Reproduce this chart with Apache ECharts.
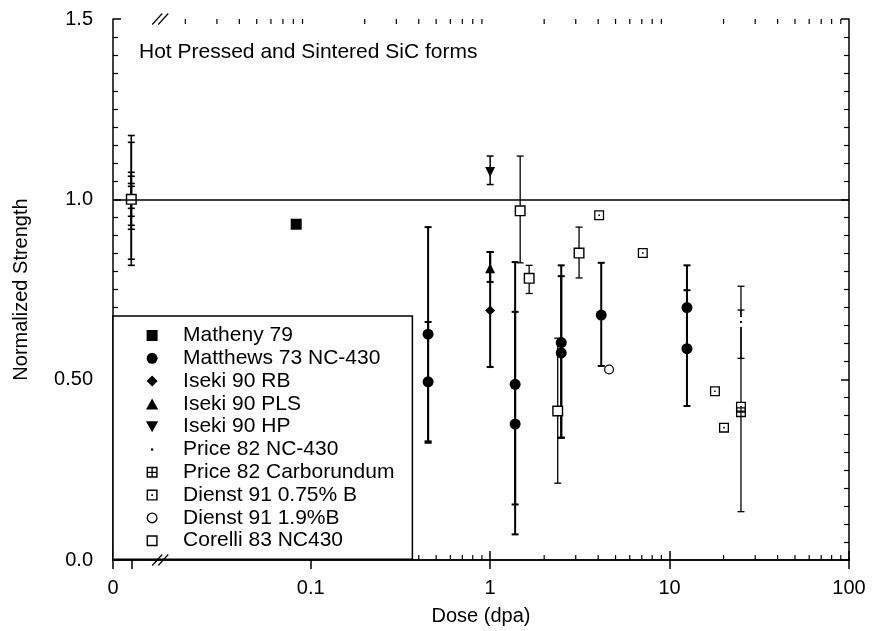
<!DOCTYPE html>
<html><head><meta charset="utf-8">
<script src="https://cdn.jsdelivr.net/npm/echarts@6/dist/echarts.min.js"></script>
<style>html,body{margin:0;padding:0;background:#fff}#c{width:875px;height:631px}</style>
</head><body><div id="c"></div>
<script>
const FONT = 'Liberation Sans, Arial, Helvetica, sans-serif';

// rows: [dose (dpa), normalized strength, error low, error high]
const unirradiated = [[0.01,1,0.817,1.177],[0.01,1,0.834,1.158],[0.01,1,0.928,1.075],[0.01,1,0.917,1.064],[0.01,1,0.953,1.044],[0.01,1,0.975,1.036]];
const matheny79 = [[0.083,0.931]];
const matthews73 = [[0.451,0.626,0.329,0.923],[0.451,0.494,0.325,0.66],[1.378,0.487,0.154,0.826],[1.378,0.377,0.071,0.688],[2.49,0.603,0.339,0.817],[2.49,0.574,0.339,0.787],[4.16,0.679,0.538,0.824],[12.5,0.700,0.583,0.817],[12.5,0.586,0.427,0.748]];
const iseki90RB = [[1.0,0.692,0.535,0.854]];
const iseki90PLS = [[1.0,0.809,0.771,0.854]];
const iseki90HP = [[1.0,1.076,1.041,1.12]];
const price82NC = [[25.0,0.66,0.559,0.759]];
const price82Carb = [[25.0,0.41,0.134,0.693]];
const dienst91B075 = [[4.05,0.956],[7.09,0.851],[17.9,0.468],[20.1,0.367],[25.0,0.425]];
const dienst91B19 = [[4.6,0.528]];
const corelli83 = [[0.01,1.0],[1.47,0.968,0.824,1.12],[1.65,0.781,0.739,0.817],[2.38,0.413,0.213,0.615],[3.13,0.851,0.782,0.923]];

const seriesNames = ['Matheny 79','Matthews 73 NC-430','Iseki 90 RB','Iseki 90 PLS','Iseki 90 HP','Price 82 NC-430','Price 82 Carborundum','Dienst 91 0.75% B','Dienst 91 1.9%B','Corelli 83 NC430'];
const xTickLabels = [[0.01,''],[0.1,'0.1'],[1,'1'],[10,'10'],[100,'100']];
const xZeroLabel = '0';
const xMinorTicks = [0.02,0.03,0.04,0.05,0.06,0.07,0.08,0.09,0.2,0.3,0.4,0.5,0.6,0.7,0.8,0.9,2,3,4,5,6,7,8,9,20,30,40,50,60,70,80,90];
const yTickLabels = [[0,'0.0'],[0.5,'0.50'],[1,'1.0'],[1.5,'1.5']];
const titleText = 'Hot Pressed and Sintered SiC forms';
const xName = 'Dose (dpa)';
const yName = 'Normalized Strength';
const referenceLevel = 1.0;
const breakDose = 0.0145;

const X_MIN = Math.pow(10, -2.102), X_MAX = 100, Y_MIN = 0, Y_MAX = 1.5;

const SQ_FILL = 'path://M0,0H10V10H0Z';
const DIAMOND = 'path://M5,0L10,5L5,10L0,5Z';
const UP_TRI = 'path://M5,0L10,9H0Z';
const DOWN_TRI = 'path://M0,0H10L5,9Z';
const SQ_RING = 'path://M0,0H10V10H0Z M1.3,1.3V8.7H8.7V1.3Z';
const SQ_DOT = SQ_RING + ' M4.2,4.2H5.8V5.8H4.2Z';
const SQ_PLUS = SQ_RING + ' M4.4,1.3H5.6V8.7H4.4Z M1.3,4.4H4.4V5.6H1.3Z M5.6,4.4H8.7V5.6H5.6Z';
const CIRC_RING = 'path://M5,0A5,5,0,1,1,5,10A5,5,0,1,1,5,0Z M5,1.2A3.8,3.8,0,1,0,5,8.8A3.8,3.8,0,1,0,5,1.2Z';
const TINY_DOT = 'path://M0,0M10,10M4,4H6V6H4Z';

function errRows(rows){ return rows.filter(r => r.length >= 4); }
function errSeries(name, rows, lw){
  return {
    type:'custom', name:name, z:1, silent:true,
    data: errRows(rows),
    encode:{x:0, y:1},
    renderItem: function(params, api){
      const x = api.value(0), lo = api.value(2), hi = api.value(3);
      const p1 = api.coord([x, hi]), p2 = api.coord([x, lo]);
      const hw = 3.5;
      const st = {stroke:'#000', lineWidth:lw};
      return {type:'group', children:[
        {type:'line', shape:{x1:p1[0],y1:p1[1],x2:p2[0],y2:p2[1]}, style:st},
        {type:'line', shape:{x1:p1[0]-hw,y1:p1[1],x2:p1[0]+hw,y2:p1[1]}, style:st},
        {type:'line', shape:{x1:p2[0]-hw,y1:p2[1],x2:p2[0]+hw,y2:p2[1]}, style:st}
      ]};
    }
  };
}
function pts(rows){ return rows.map(r => [r[0], r[1]]); }
function scat(name, rows, symbol, size){
  return {type:'scatter', name:name, z:3, data:pts(rows), symbol:symbol, symbolSize:size,
    itemStyle:{color:'#000', opacity:1}, emphasis:{disabled:true}, silent:true};
}
function mask(name, rows, symbol, size){
  return {type:'scatter', name:name, z:2, data:pts(rows), symbol:symbol, symbolSize:size,
    itemStyle:{color:'#fff', opacity:1}, emphasis:{disabled:true}, silent:true};
}

const chart = echarts.init(document.getElementById('c'), null, {renderer:'canvas'});

const series = [
  errSeries('err-base', unirradiated, 1.6),
  errSeries('err-matthews', matthews73, 2),
  errSeries('err-rb', iseki90RB, 2),
  errSeries('err-pls', iseki90PLS, 2),
  errSeries('err-hp', iseki90HP, 1.5),
  errSeries('err-pnc', price82NC, 1.3),
  errSeries('err-pcb', price82Carb, 1.3),
  errSeries('err-cor', corelli83, 1.3),
  {
    type:'custom', name:'minor-x', z:1, silent:true,
    data: xMinorTicks.map(v => [v, Y_MIN]),
    encode:{x:0, y:1},
    renderItem: function(params, api){
      const v = api.value(0);
      const b = api.coord([v, Y_MIN]), t = api.coord([v, Y_MAX]);
      const st = {stroke:'#000', lineWidth:1.2};
      return {type:'group', children:[
        {type:'line', shape:{x1:b[0],y1:b[1],x2:b[0],y2:b[1]-5}, style:st},
        {type:'line', shape:{x1:t[0],y1:t[1],x2:t[0],y2:t[1]+5}, style:st}
      ]};
    }
  },
  mask('m-pnc', price82NC, 'circle', 10),
  mask('m-pcb', price82Carb, 'rect', 9),
  mask('m-d075', dienst91B075, 'rect', 9),
  mask('m-d19', dienst91B19, 'circle', 9),
  mask('m-cor', corelli83, 'rect', 10),
  Object.assign(scat(seriesNames[0], matheny79, SQ_FILL, 11), {
    markLine:{silent:true, symbol:'none', label:{show:false}, animation:false,
      lineStyle:{color:'#000', width:1.5, type:'solid'}, data:[{yAxis:referenceLevel}]}
  }),
  scat(seriesNames[1], matthews73, 'circle', 11),
  scat(seriesNames[2], iseki90RB, DIAMOND, 10),
  scat(seriesNames[3], iseki90PLS, UP_TRI, 10),
  scat(seriesNames[4], iseki90HP, DOWN_TRI, 10),
  scat(seriesNames[5], price82NC, TINY_DOT, 10),
  scat(seriesNames[6], price82Carb, SQ_PLUS, 10),
  scat(seriesNames[7], dienst91B075, SQ_DOT, 10),
  scat(seriesNames[8], dienst91B19, CIRC_RING, 10),
  scat(seriesNames[9], corelli83, SQ_RING, 11)
];

function fmtX(v){
  if (v < 0.0095) return xZeroLabel;
  for (const [t,l] of xTickLabels) if (Math.abs(Math.log10(v/t)) < 0.01) return l;
  return '';
}
function fmtY(v){
  for (const [t,l] of yTickLabels) if (Math.abs(v - t) < 1e-6) return l;
  return '';
}
const axisLineStyle = {color:'#000', width:1.5};
const labelStyle = {color:'#000', fontSize:20, fontFamily:FONT};

chart.setOption({
  animation:false,
  backgroundColor:'#fff',
  textStyle:{fontFamily:FONT, color:'#000'},
  grid:{left:113, right:26, top:19, bottom:71, containLabel:false},
  xAxis:[
    {type:'log', logBase:10, min:X_MIN, max:X_MAX, position:'bottom',
      axisLine:{show:true, lineStyle:axisLineStyle},
      axisTick:{show:true, inside:true, length:9, lineStyle:{color:'#000', width:1.5}},
      splitLine:{show:false},
      axisLabel:Object.assign({formatter:fmtX, margin:18, showMinLabel:true, showMaxLabel:true}, labelStyle),
      name:xName, nameLocation:'middle', nameGap:46, nameTextStyle:labelStyle},
    {type:'log', logBase:10, min:X_MIN, max:X_MAX, position:'top',
      axisLine:{show:true, lineStyle:axisLineStyle},
      axisTick:{show:true, inside:true, length:9, lineStyle:{color:'#000', width:1.5}},
      splitLine:{show:false}, axisLabel:{show:false}}
  ],
  yAxis:[
    {type:'value', min:Y_MIN, max:Y_MAX, interval:0.5, position:'left',
      axisLine:{show:true, lineStyle:axisLineStyle},
      axisTick:{show:true, inside:true, length:8, lineStyle:{color:'#000', width:1.5}},
      minorTick:{show:true, splitNumber:10, length:5, lineStyle:{color:'#000', width:1.2}},
      splitLine:{show:false}, minorSplitLine:{show:false},
      axisLabel:Object.assign({formatter:fmtY, margin:20}, labelStyle),
      name:yName, nameLocation:'middle', nameGap:82, nameTextStyle:labelStyle},
    {type:'value', min:Y_MIN, max:Y_MAX, interval:0.5, position:'right',
      axisLine:{show:true, lineStyle:axisLineStyle},
      axisTick:{show:true, inside:true, length:8, lineStyle:{color:'#000', width:1.5}},
      minorTick:{show:true, splitNumber:10, length:5, lineStyle:{color:'#000', width:1.2}},
      splitLine:{show:false}, axisLabel:{show:false}}
  ],
  legend:{
    data:seriesNames, orient:'vertical', left:113, top:316,
    backgroundColor:'#fff', borderColor:'#000', borderWidth:1.5, borderRadius:0,
    padding:[9, 18, 8, 33], itemGap:1.8, itemWidth:52, itemHeight:11, symbolKeepAspect:true,
    selectedMode:false, inactiveColor:'#000',
    textStyle:{color:'#000', fontSize:21, lineHeight:21, fontFamily:FONT}
  },
  series:series
});

const pb = chart.convertToPixel({xAxisIndex:0, yAxisIndex:0}, [breakDose, Y_MIN]);
const pt = chart.convertToPixel({xAxisIndex:0, yAxisIndex:0}, [breakDose, Y_MAX]);
function slashes(p){
  const cx = p[0], cy = p[1];
  const st = {stroke:'#000', lineWidth:1.2};
  return [
    {type:'line', z:100, shape:{x1:cx-8, y1:cy+5.5, x2:cx+2, y2:cy-5.5}, style:st},
    {type:'line', z:100, shape:{x1:cx-2, y1:cy+5.5, x2:cx+8, y2:cy-5.5}, style:st}
  ];
}
chart.setOption({
  graphic:[].concat(slashes(pb), slashes(pt), [
    {type:'text', z:100, x:139, y:52, style:{text:titleText, font:'21px ' + FONT, fill:'#000', verticalAlign:'middle', align:'left'}}
  ])
});
</script>
</body></html>
